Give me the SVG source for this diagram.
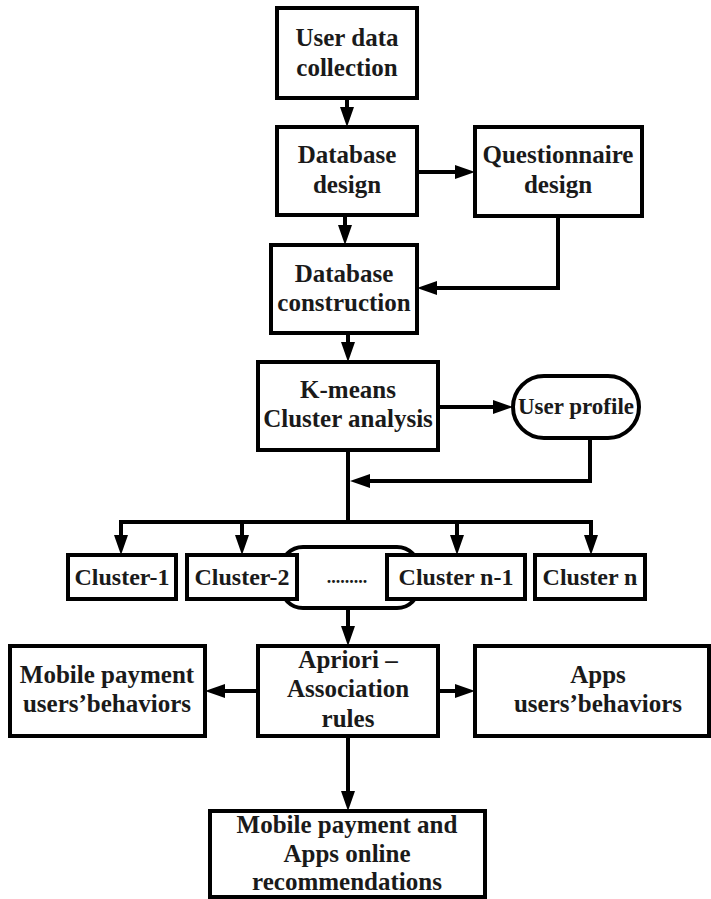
<svg xmlns="http://www.w3.org/2000/svg" width="711" height="899" viewBox="0 0 711 899">
  <style>
    .box { fill: #ffffff; stroke: #000000; stroke-width: 4; }
    .lbl { font-family: "Liberation Serif", "Times New Roman", serif; font-weight: bold; font-size: 25px; fill: #1a1a1a; text-anchor: middle; }
    .sm { font-size: 24px; }
    .edge { fill: none; stroke: #000000; stroke-width: 4; stroke-linejoin: miter; }
    .arr { marker-end: url(#head); }
  </style>
  <defs>
    <marker id="head" markerUnits="userSpaceOnUse" viewBox="0 0 20 14" markerWidth="20" markerHeight="14" refX="3" refY="7" orient="auto">
      <path d="M0,0 L20,7 L0,14 z" fill="#000000"/>
    </marker>
  </defs>
  <rect width="711" height="899" fill="#ffffff"/>

  <!-- connectors -->
  <g id="connectors">
    <path class="edge arr" d="M347,98 V110"/>
    <path class="edge arr" d="M417,172 H458"/>
    <path class="edge arr" d="M345,215 V228"/>
    <path class="edge arr" d="M558,216 V288 H434"/>
    <path class="edge arr" d="M348,333 V345"/>
    <path class="edge arr" d="M438,407 H496"/>
    <path class="edge arr" d="M590,438 V481 H367"/>
    <path class="edge" d="M348,450 V522"/>
    <path class="edge" d="M121,522 H591"/>
    <path class="edge arr" d="M121,520 V538"/>
    <path class="edge arr" d="M242,520 V538"/>
    <path class="edge arr" d="M457,520 V538"/>
    <path class="edge arr" d="M591,520 V538"/>
    <path class="edge arr" d="M348,608 V629"/>
    <path class="edge arr" d="M258,691 H222"/>
    <path class="edge arr" d="M438,691 H458"/>
    <path class="edge arr" d="M348,736 V794"/>
  </g>

  <g id="user-data-collection">
    <rect class="box" x="277" y="8" width="140" height="90"/>
    <text class="lbl" x="347" y="46">User data</text>
    <text class="lbl" x="347" y="76">collection</text>
  </g>

  <g id="database-design">
    <rect class="box" x="277" y="127" width="140" height="88"/>
    <text class="lbl" x="347" y="163">Database</text>
    <text class="lbl" x="347" y="193">design</text>
  </g>

  <g id="questionnaire-design">
    <rect class="box" x="475" y="127" width="167" height="89"/>
    <text class="lbl" x="558" y="163">Questionnaire</text>
    <text class="lbl" x="558" y="193">design</text>
  </g>

  <g id="database-construction">
    <rect class="box" x="271" y="245" width="146" height="88"/>
    <text class="lbl" x="344" y="282">Database</text>
    <text class="lbl" x="344" y="311">construction</text>
  </g>

  <g id="kmeans">
    <rect class="box" x="258" y="362" width="180" height="88"/>
    <text class="lbl" x="348" y="398">K-means</text>
    <text class="lbl" x="348" y="427">Cluster analysis</text>
  </g>

  <g id="user-profile">
    <rect class="box" x="513" y="376" width="126" height="62" rx="31" ry="31"/>
    <text class="lbl" x="576" y="414" style="font-size:23px">User profile</text>
  </g>

  <g id="cluster-group">
    <rect class="box" x="281" y="547" width="138" height="61" rx="22" ry="22"/>
    <text class="lbl" x="347" y="583" style="font-size:18px">.........</text>
  </g>

  <g id="cluster-1">
    <rect class="box" x="68" y="555" width="108" height="44"/>
    <text class="lbl sm" x="122" y="585">Cluster-1</text>
  </g>

  <g id="cluster-2">
    <rect class="box" x="187" y="555" width="110" height="44"/>
    <text class="lbl sm" x="242" y="585">Cluster-2</text>
  </g>

  <g id="cluster-n-1">
    <rect class="box" x="387" y="555" width="138" height="44"/>
    <text class="lbl sm" x="456" y="585">Cluster n-1</text>
  </g>

  <g id="cluster-n">
    <rect class="box" x="535" y="555" width="110" height="44"/>
    <text class="lbl sm" x="590" y="585">Cluster n</text>
  </g>

  <g id="mobile-payment-behaviors">
    <rect class="box" x="10" y="646" width="195" height="90"/>
    <text class="lbl" x="107" y="683">Mobile payment</text>
    <text class="lbl" x="107" y="712">users’behaviors</text>
  </g>

  <g id="apriori">
    <rect class="box" x="258" y="646" width="180" height="90"/>
    <text class="lbl" x="348" y="668">Apriori –</text>
    <text class="lbl" x="348" y="697">Association</text>
    <text class="lbl" x="348" y="727">rules</text>
  </g>

  <g id="apps-behaviors">
    <rect class="box" x="475" y="646" width="234" height="90"/>
    <text class="lbl" x="598" y="683">Apps</text>
    <text class="lbl" x="598" y="712">users’behaviors</text>
  </g>

  <g id="recommendations">
    <rect class="box" x="210" y="811" width="275" height="86"/>
    <text class="lbl" x="347" y="833">Mobile payment and</text>
    <text class="lbl" x="347" y="862">Apps online</text>
    <text class="lbl" x="347" y="890">recommendations</text>
  </g>
</svg>
